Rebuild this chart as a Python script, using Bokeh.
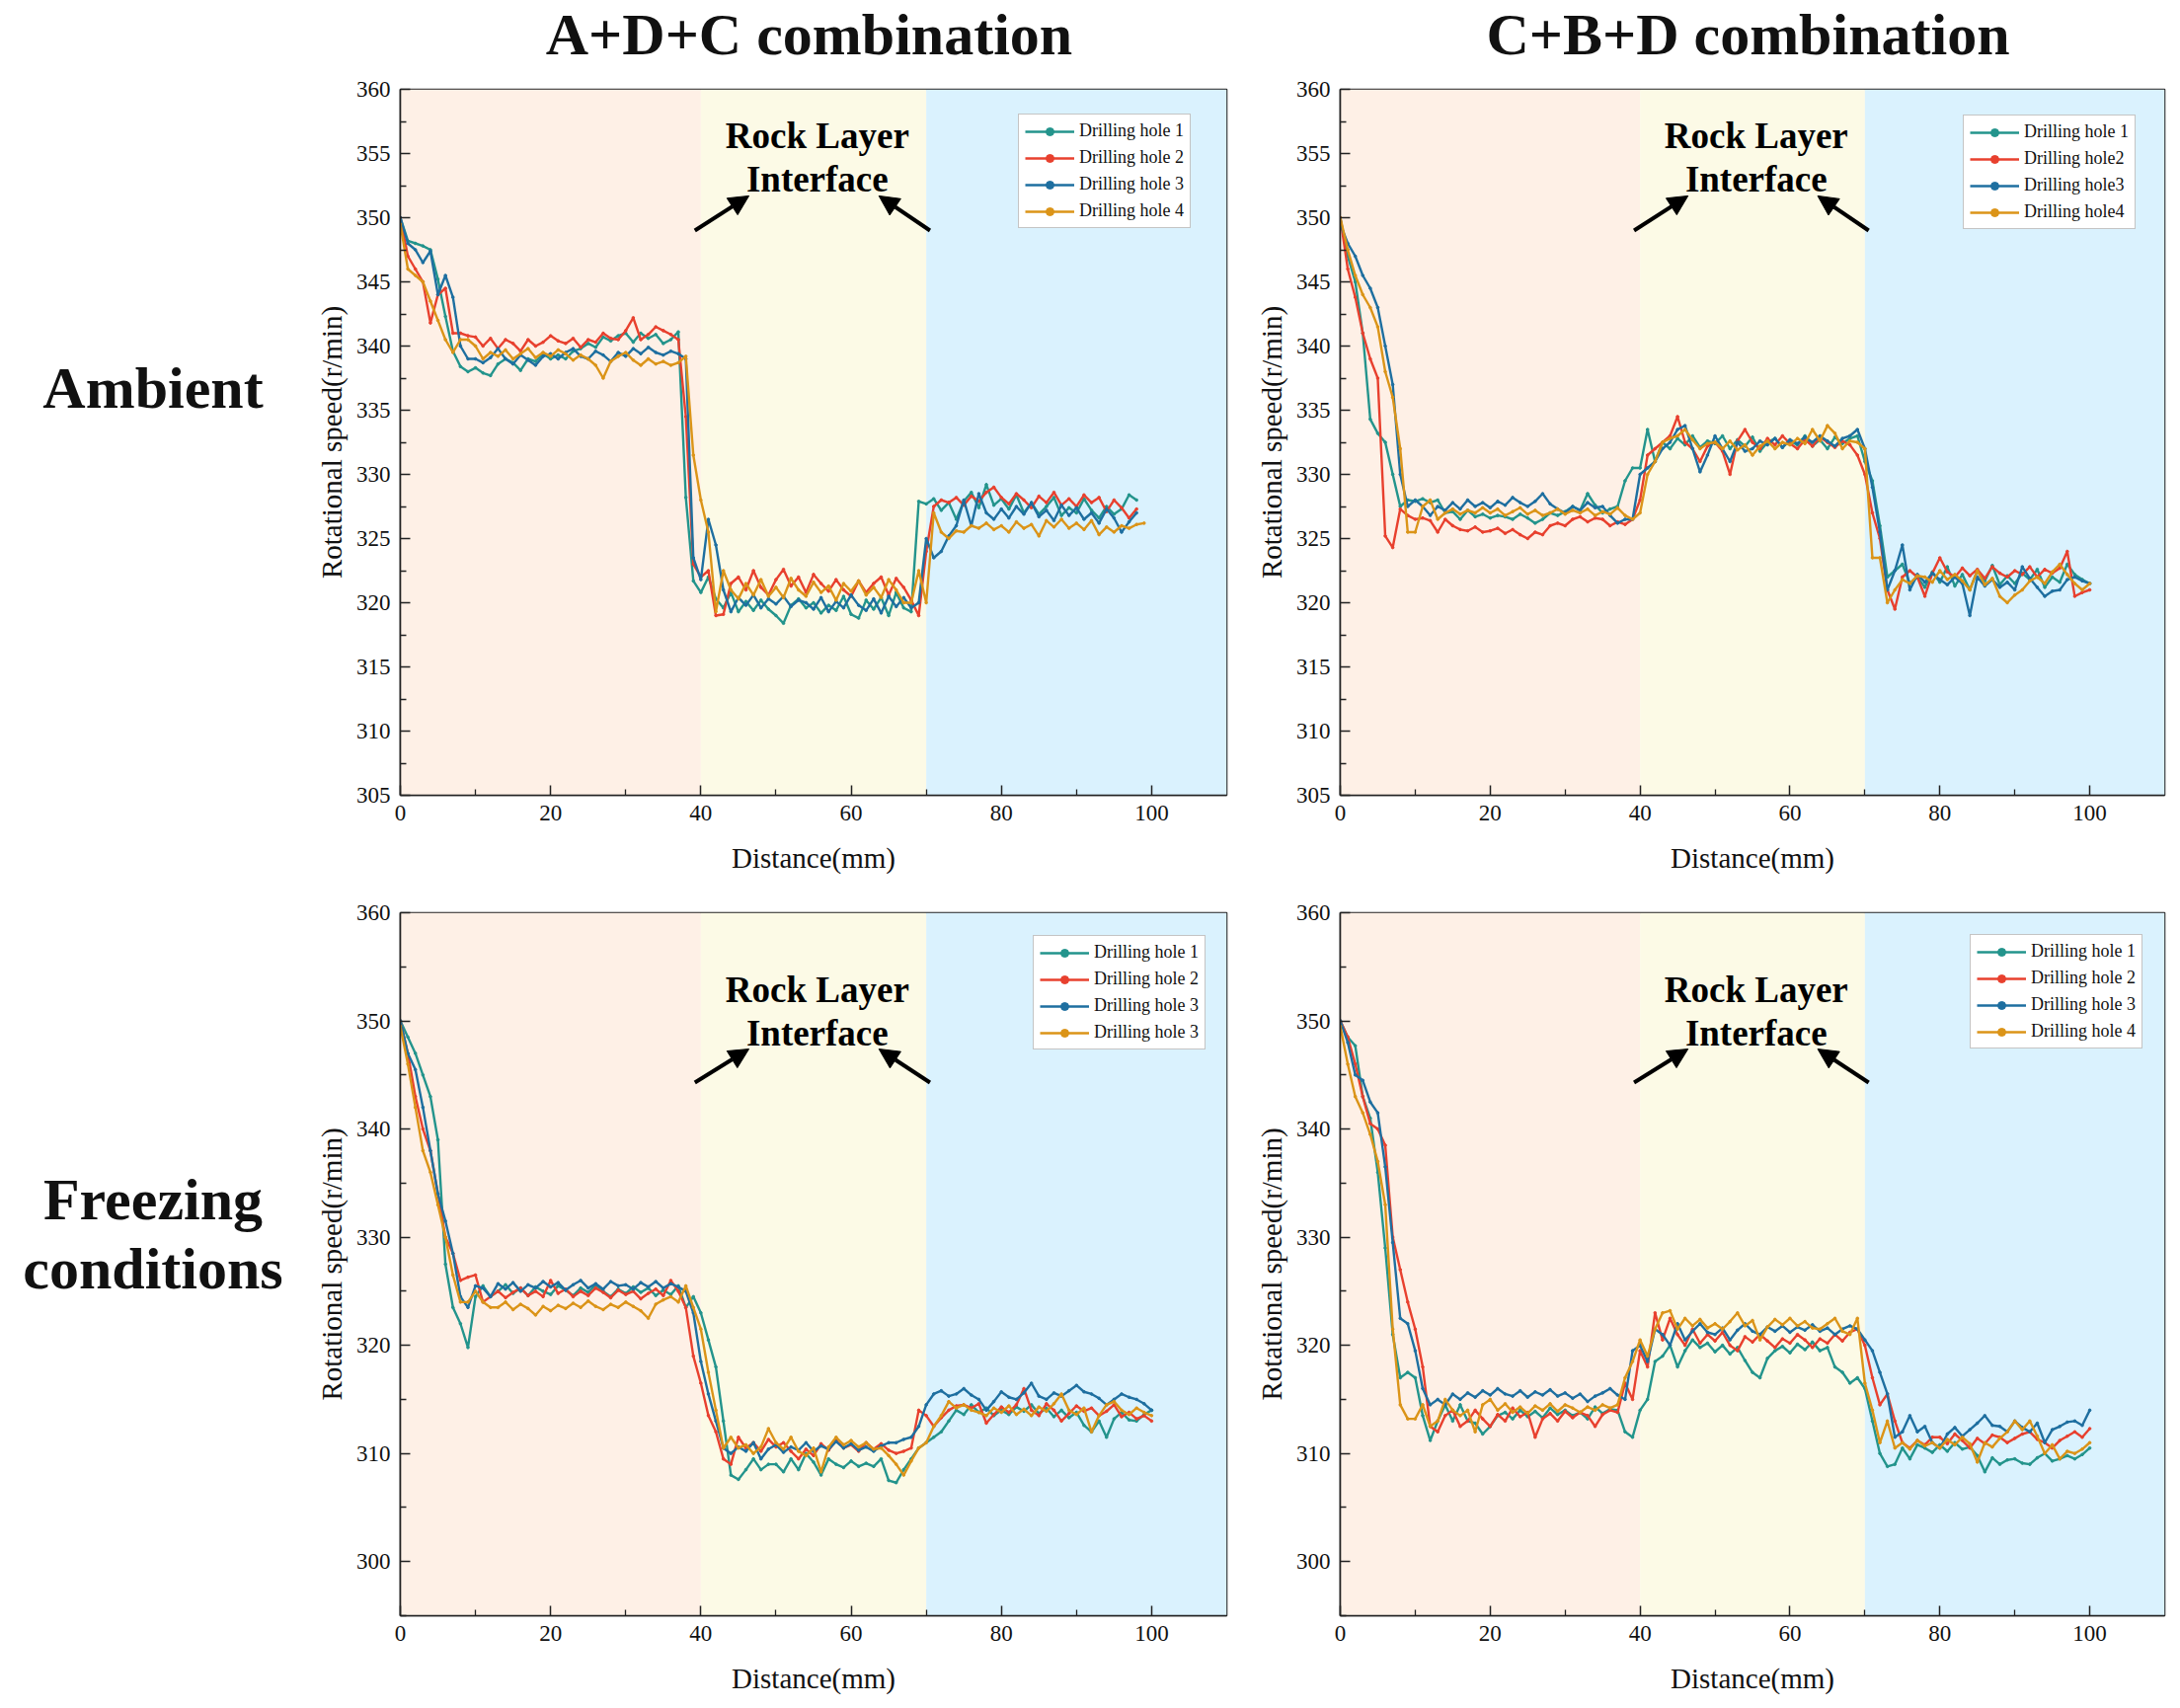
from bokeh.plotting import figure
from bokeh.layouts import column, row
from bokeh.models import (Div, Range1d, BoxAnnotation, Legend, LegendItem,
                          Arrow, NormalHead, Label, FixedTicker)
from bokeh.embed import file_html
from bokeh.resources import INLINE

SERIF = "Liberation Serif"

# ---- data -------------------------------------------------------------
distance = list(range(0, 101))  # mm, sampling grid of the drilling records

col_titles = ["A+D+C combination", "C+B+D combination"]
row_titles = ["Ambient", "Freezing<br>conditions"]
zone_edges = [0, 40, 70, 110]
x_ticks = [0, 20, 40, 60, 80, 100]
x_minor = [10, 30, 50, 70, 90]
y_ticks_amb = [305, 310, 315, 320, 325, 330, 335, 340, 345, 350, 355, 360]
y_minor_amb = [307.5, 312.5, 317.5, 322.5, 327.5, 332.5, 337.5, 342.5, 347.5, 352.5, 357.5]
y_ticks_frz = [300, 310, 320, 330, 340, 350, 360]
y_minor_frz = [295, 305, 315, 325, 335, 345, 355]

labels_adc_amb = ["Drilling hole 1", "Drilling hole 2", "Drilling hole 3", "Drilling hole 4"]
labels_cbd_amb = ["Drilling hole 1", "Drilling hole2", "Drilling hole3", "Drilling hole4"]
labels_adc_frz = ["Drilling hole 1", "Drilling hole 2", "Drilling hole 3", "Drilling hole 3"]
labels_cbd_frz = ["Drilling hole 1", "Drilling hole 2", "Drilling hole 3", "Drilling hole 4"]

# ambient, A+D+C
adc_amb_h1 = [350.0, 348.2, 348.0, 347.8, 347.5, 345.2, 342.3, 339.6, 338.4, 338.0,
              338.3, 337.9, 337.7, 338.6, 339.0, 338.7, 338.1, 339.0, 338.8, 339.4,
              339.0, 339.3, 339.0, 339.6, 339.8, 340.2, 339.9, 340.7, 340.4, 340.8,
              341.0, 340.3, 341.0, 340.6, 340.9, 340.2, 340.5, 341.1, 328.2, 321.7,
              320.8, 322.0, 320.3, 319.6, 320.8, 319.3, 320.1, 319.4, 320.2, 319.5,
              319.0, 318.4, 319.8, 320.3, 319.6, 320.0, 319.2, 319.8, 319.4, 320.5,
              319.1, 318.8, 320.2, 319.5, 320.4, 319.0, 320.8, 319.6, 319.3, 327.9,
              327.7, 328.1, 327.2, 327.8, 326.5, 327.9, 328.6, 327.4, 329.2, 327.6,
              328.1, 327.3, 328.4, 327.0, 327.8, 326.9, 327.5, 328.2, 326.8, 327.4,
              327.0, 328.1, 327.2, 326.6, 327.5, 326.9, 327.3, 328.4, 328.0]
adc_amb_h2 = [350.0, 347.0, 346.0, 345.0, 341.8, 344.0, 344.5, 341.0, 341.0, 340.8,
              340.7, 340.0, 340.6, 339.8, 340.5, 340.2, 339.6, 340.5, 340.0, 340.3,
              340.8, 340.4, 340.2, 340.6, 339.9, 340.5, 340.3, 341.0, 340.6, 340.5,
              341.2, 342.2, 340.5, 340.9, 341.5, 341.2, 340.9, 340.5, 334.5, 323.0,
              322.0, 322.5, 319.0, 319.1, 321.5, 322.0, 321.0, 322.5, 321.2, 320.6,
              321.8, 322.6, 321.3, 322.0, 320.8, 322.2, 321.5, 320.9, 321.8, 321.0,
              320.5, 321.7, 320.8, 321.5, 322.0, 320.6, 321.9, 321.2, 320.2, 319.0,
              324.0, 327.5, 328.0, 327.8, 328.2, 327.6, 328.3, 327.9, 328.6, 329.0,
              328.2, 327.7, 328.5, 328.0, 327.4, 328.3, 327.8, 328.6, 327.6, 328.1,
              327.5, 328.4, 327.8, 328.2, 327.1, 328.0, 327.4, 326.6, 327.3]
adc_amb_h3 = [350.0, 348.0, 347.5, 346.5, 347.4, 344.0, 345.5, 343.8, 340.0, 339.0,
              339.0, 338.7, 339.1, 339.8, 339.0, 338.6, 339.3, 338.9, 338.5, 339.2,
              339.4, 339.0, 339.5, 339.8, 339.2, 339.0, 339.6, 339.3, 338.8, 339.5,
              339.2, 339.8, 339.4, 339.9, 339.5, 339.3, 339.6, 339.4, 339.0, 323.5,
              321.8, 326.5, 324.5, 321.0, 319.3, 320.4, 319.8, 320.6, 319.6, 320.3,
              319.9, 320.5, 319.7, 320.2, 320.0, 319.5, 320.4, 319.3, 320.1, 319.6,
              320.6, 319.8, 319.4, 320.3, 319.2, 320.5, 319.7, 320.4, 319.6, 320.0,
              325.0, 323.5, 324.0, 325.2, 326.0, 328.0, 326.0, 328.5, 327.0, 326.5,
              327.3, 326.6, 327.5, 326.9, 327.8, 326.7, 327.2, 326.4, 327.6, 326.8,
              327.4, 326.5, 327.0, 326.2, 327.3, 326.6, 325.5, 326.3, 327.0]
adc_amb_h4 = [349.5, 346.0, 345.5, 345.0, 343.5, 342.0, 340.5, 339.5, 340.5, 340.5,
              340.0, 339.0, 339.5, 339.2, 339.7, 339.0, 339.4, 339.8, 339.1, 339.5,
              339.2, 339.7, 339.4, 338.9, 339.3, 339.0, 338.5, 337.5, 338.8, 339.2,
              339.5, 338.9, 338.5, 339.0, 338.6, 338.8, 338.5, 338.7, 339.2, 331.5,
              328.0, 325.5, 319.3, 322.5, 321.0, 320.3, 321.5, 320.6, 321.8, 320.5,
              321.2, 320.4, 321.9, 321.0, 320.5, 321.6, 320.8, 321.3, 320.2, 321.5,
              320.9, 321.7, 320.6, 321.2, 320.4, 321.8, 321.0, 320.0, 320.0, 322.5,
              320.0, 327.0, 325.5, 325.0, 325.6, 325.5, 326.0, 325.8, 326.2, 325.7,
              326.0, 325.5, 326.3, 325.8, 326.1, 325.2, 326.4, 325.9, 326.5, 325.8,
              326.2, 325.7, 326.4, 325.3, 325.9, 325.5, 326.0, 325.8, 326.1, 326.2]

# ambient, C+B+D
cbd_amb_h1 = [350.0, 347.0, 345.0, 341.0, 334.3, 333.2, 332.5, 330.0, 327.5, 328.0,
              327.9, 328.1, 327.8, 328.0, 327.0, 327.1, 326.5, 327.2, 326.7, 326.9,
              326.6, 326.8, 326.7, 326.5, 326.9, 326.6, 326.2, 326.5, 327.0, 326.8,
              327.1, 327.5, 327.2, 328.5, 327.6, 327.0, 327.3, 327.5, 329.5, 330.5,
              330.5, 333.5, 331.0, 332.5, 332.0, 332.8, 332.3, 333.0, 332.1, 332.6,
              332.4, 333.0, 332.0, 332.7, 332.2, 332.9, 331.8, 332.5, 332.8, 332.1,
              332.6, 332.3, 333.0, 332.2, 332.7, 332.0, 332.9, 332.4, 332.8, 333.0,
              331.0, 329.5, 326.0, 322.0, 322.5, 323.0, 321.5, 322.0, 321.2, 322.4,
              321.6, 322.8, 321.3, 322.2, 321.0, 322.5, 321.7, 322.9, 321.4, 322.1,
              321.5, 322.3, 321.8, 322.6, 321.2, 322.0, 321.6, 323.0, 322.2, 321.8,
              321.5]
cbd_amb_h2 = [350.0, 346.0, 343.8, 341.0, 339.0, 337.5, 325.2, 324.3, 327.3, 326.8,
              326.5, 326.6, 326.4, 325.5, 326.5, 326.0, 325.7, 325.6, 325.9, 325.5,
              325.6, 325.8, 325.4, 325.7, 325.3, 325.0, 325.5, 325.3, 326.0, 326.2,
              326.0, 326.5, 326.7, 326.3, 326.6, 326.5, 326.0, 326.3, 326.1, 326.5,
              328.0, 331.5, 332.0, 332.5, 333.0, 334.5, 332.5, 332.0, 331.0, 332.2,
              332.5, 331.8, 330.0, 332.6, 333.5, 332.5, 332.0, 332.8, 332.3, 333.0,
              332.4, 332.0, 332.7, 332.2, 332.9, 332.5, 332.1, 332.6, 332.3, 331.5,
              330.0, 327.0, 325.0, 321.0, 319.5, 322.0, 322.5, 322.0, 320.5, 322.3,
              323.5, 322.4, 322.0, 322.7, 322.1, 322.6, 321.9, 322.8, 322.3, 322.0,
              322.5, 322.2, 322.8, 322.0, 322.6, 322.3, 322.7, 324.0, 320.5, 320.8,
              321.0]
cbd_amb_h3 = [349.5, 348.0, 347.0, 345.5, 344.5, 343.0, 340.0, 337.0, 330.0, 327.5,
              328.0, 327.5, 326.8, 327.5, 327.2, 327.8, 327.3, 328.0, 327.5, 327.8,
              327.4, 327.9, 327.6, 328.2, 327.8, 327.5, 327.9, 328.5, 327.7, 327.3,
              327.0, 327.5, 327.2, 327.8, 327.4, 327.5, 326.8, 326.2, 326.5, 326.5,
              330.0, 330.5, 331.0, 332.0, 332.5, 333.5, 333.8, 332.0, 330.2, 331.5,
              333.0, 332.0, 331.0, 332.5, 331.8, 332.0, 332.6, 332.3, 332.8, 332.1,
              332.7, 332.4, 332.9, 332.5, 333.0, 332.6, 332.2, 332.8, 333.0, 333.5,
              332.0, 329.0, 325.5, 321.0, 322.5, 324.5, 321.0, 322.2, 321.6, 322.3,
              321.8, 321.4, 322.0, 321.5, 319.0, 322.0, 321.3, 321.8, 321.2, 321.6,
              321.0, 322.8, 321.9, 321.2, 320.5, 320.9, 321.0, 321.8, 322.0, 321.7,
              321.5]
cbd_amb_h4 = [350.0, 347.5, 345.5, 344.0, 343.0, 341.5, 338.0, 336.0, 332.0, 325.5,
              325.5, 327.5, 328.0, 326.5, 327.0, 327.3, 326.9, 327.2, 327.0, 327.4,
              327.0, 327.3, 326.8, 327.1, 327.4, 326.9, 327.2, 326.8, 327.0, 327.3,
              326.9, 327.2, 327.0, 327.3, 326.8, 327.1, 326.9, 327.4, 326.8, 326.5,
              327.0, 330.0, 331.0, 332.5, 332.8, 333.0, 333.5, 332.7, 332.0, 332.4,
              332.5, 332.0, 332.6, 331.9, 332.3, 331.5, 332.2, 332.6, 332.0, 332.5,
              332.3, 332.8, 332.4, 333.5, 332.6, 333.8, 333.2, 332.0, 332.6, 332.5,
              332.0, 323.5, 323.5, 320.0, 321.0, 321.8, 321.5, 322.1, 322.0, 321.6,
              322.5, 321.8, 322.2, 321.7, 321.0, 322.5, 321.4, 321.9, 320.5, 320.0,
              320.6, 321.0, 321.7, 322.0, 321.5, 322.4, 323.0, 322.2, 321.5, 321.0,
              321.5]

# freezing, A+D+C
adc_frz_h1 = [350.0, 348.5, 347.0, 345.0, 343.0, 339.0, 327.5, 323.5, 322.0, 319.8,
              324.5, 325.5, 324.5, 325.0, 325.6, 324.8, 325.3, 324.6, 325.4, 325.0,
              324.7, 325.5, 325.1, 324.6, 325.3, 324.9, 325.6, 325.0, 324.5, 325.2,
              324.8, 325.4, 324.9, 325.3, 324.6, 325.1, 324.7, 325.5, 323.5, 324.5,
              323.0, 320.5, 318.0, 313.0, 308.0, 307.6, 308.5, 309.5, 308.5, 309.0,
              309.0, 308.3, 309.5, 308.5, 310.0, 309.2, 308.0, 309.5, 309.0, 308.7,
              309.3, 308.8, 309.1, 308.8, 309.5, 307.5, 307.3, 308.5, 309.5, 310.5,
              311.0, 311.5, 312.0, 313.0, 314.0, 313.6, 314.5, 313.8, 314.2, 313.5,
              314.0, 313.6, 314.3, 313.9, 314.5, 313.7, 314.2, 313.4, 314.0, 313.3,
              313.8, 312.6, 312.0, 313.0, 311.5, 313.2, 313.8, 313.1, 313.0, 313.6,
              314.0]
adc_frz_h2 = [350.0, 347.0, 343.0, 340.0, 338.0, 334.0, 330.0, 328.5, 326.0, 326.3,
              326.5, 324.0, 324.5, 325.0, 324.4, 324.9, 325.3, 324.6, 325.0, 324.5,
              326.0, 324.8, 325.2, 324.5, 325.0, 324.6, 325.3, 324.9, 324.4, 325.1,
              324.7, 325.0, 324.3, 324.8, 325.2, 324.6, 326.0, 325.0, 323.5, 319.0,
              316.5, 313.5, 312.0, 309.5, 309.0, 311.5, 310.5, 311.0, 310.2, 311.3,
              310.6, 311.0, 310.2, 309.5, 310.4, 309.8, 310.9, 310.3, 311.2, 310.5,
              310.8, 310.2, 311.0, 310.4, 310.9, 310.3, 310.0, 310.2, 310.5, 314.0,
              313.5, 312.5, 313.3, 314.0, 314.4, 314.5, 314.2, 314.6, 312.8, 313.6,
              314.3, 313.8, 314.5, 316.0, 314.0, 313.5, 314.6, 314.0, 313.0, 313.7,
              314.4, 313.9, 314.2, 313.5, 313.9, 314.5, 313.4, 313.8, 313.2, 313.5,
              313.0]
adc_frz_h3 = [350.0, 347.0, 345.5, 342.0, 338.0, 334.0, 331.5, 328.5, 324.5, 323.5,
              325.5, 325.3, 324.5, 325.7, 325.2, 325.8, 325.0, 325.6, 325.3, 325.9,
              325.4, 325.8, 325.1, 325.6, 326.0, 325.3, 325.7, 325.2, 325.9, 325.5,
              325.6, 325.2, 325.8, 325.4, 325.9, 325.3, 325.7, 325.4, 325.0, 323.0,
              318.5, 315.5, 313.0, 310.5, 310.0, 310.6, 310.2, 311.0, 309.5, 310.4,
              310.8, 310.1, 310.6, 310.3, 311.0, 310.2, 310.7, 310.4, 311.1, 310.5,
              310.9, 310.3, 310.6, 310.2, 310.7, 311.0, 311.0, 311.3, 311.5, 312.5,
              314.5, 315.5, 315.8, 315.3, 315.5, 316.0, 315.4, 315.0, 314.0, 314.8,
              315.7, 315.2, 315.0, 315.6, 316.5, 315.3, 315.0, 315.6, 315.3, 315.8,
              316.3, 315.7, 315.5, 315.1, 314.5, 315.0, 315.5, 315.2, 315.0, 314.6,
              314.0]
adc_frz_h4 = [349.5, 346.0, 342.0, 338.0, 336.0, 333.0, 330.0, 326.5, 324.0, 324.0,
              325.0, 324.0, 323.5, 323.5, 324.0, 323.3, 323.8, 323.4, 322.8, 323.6,
              323.2, 323.7, 323.4, 323.9, 323.5, 324.1, 323.6, 323.3, 323.8, 323.5,
              324.0, 323.6, 323.2, 322.5, 323.8, 324.2, 324.5, 324.0, 325.5, 323.5,
              321.5, 317.5, 314.0, 310.5, 311.5, 310.5, 310.8, 310.0, 310.6, 312.3,
              311.0, 310.4, 311.5, 310.2, 309.8, 310.5, 308.3, 310.6, 311.5, 310.8,
              311.2, 310.6, 311.0, 310.4, 310.5, 309.8, 309.0, 308.0, 309.3, 310.5,
              311.0, 312.5, 313.5, 314.8, 314.2, 314.5, 314.0, 313.8, 313.5, 314.2,
              313.8, 314.4, 313.6, 314.1, 313.5, 314.3, 313.9, 314.6, 315.5, 314.0,
              313.6, 314.2, 312.0, 313.5, 314.5, 314.8, 314.0, 313.6, 314.2, 313.8,
              313.5]

# freezing, C+B+D
cbd_frz_h1 = [350.0, 348.5, 347.7, 343.0, 341.0, 336.0, 329.0, 321.0, 317.0, 317.5,
              317.0, 313.5, 311.2, 313.0, 314.5, 313.0, 314.5, 313.0, 312.8, 311.8,
              312.5, 313.5, 313.8, 313.2, 314.0, 313.4, 313.9, 313.3, 314.2, 313.6,
              314.0, 313.5, 313.8, 313.2, 314.3, 313.7, 314.1, 314.0, 312.0, 311.5,
              314.0, 315.0, 318.5, 319.0, 320.0, 318.0, 319.5, 320.5, 319.8, 320.2,
              319.4, 320.0, 319.2, 319.8, 318.6, 317.5, 317.0, 318.8, 319.5, 319.9,
              319.3, 320.1, 319.6, 320.3, 319.5, 319.8, 318.0, 317.5, 316.5, 317.0,
              316.0, 313.0, 310.0, 308.8, 309.0, 310.5, 309.5, 310.8, 310.5, 310.1,
              310.8, 310.2, 311.0, 310.4, 310.6, 309.8, 308.3, 309.6, 309.0, 309.4,
              309.5, 309.1, 309.0, 309.6, 310.0, 309.3, 309.5, 309.8, 309.5, 309.9,
              310.5]
cbd_frz_h2 = [350.0, 348.5, 346.0, 343.0, 340.5, 340.0, 338.5, 330.0, 327.0, 324.0,
              321.5, 318.0, 312.5, 312.0, 313.5, 314.0, 312.5, 313.0, 314.0, 313.2,
              312.5, 313.6, 313.0, 314.2, 313.4, 313.8, 311.5, 313.2, 313.7, 313.0,
              313.9, 313.3, 313.8, 313.5, 312.5, 313.6, 314.0, 313.8, 316.5, 315.0,
              319.5, 318.0, 323.0, 320.5, 322.5, 321.0, 320.0, 321.5, 320.2, 321.0,
              320.4, 321.2, 320.0, 319.5, 320.8, 320.3, 321.0, 320.4, 319.8, 320.6,
              320.2, 321.0, 320.5, 319.8, 320.6, 320.2, 321.0, 320.4, 321.2, 321.5,
              320.0, 317.0, 314.5, 315.5, 313.0, 311.0, 310.5, 311.2, 310.8, 311.5,
              311.5, 310.9, 311.8, 311.2, 310.5, 311.4, 310.9, 311.7, 311.5, 311.0,
              311.4, 311.8, 312.0, 311.3, 311.0, 310.5, 311.2, 311.6, 312.0, 311.5,
              312.3]
cbd_frz_h3 = [350.0, 348.0, 345.0, 344.5, 342.5, 341.5, 336.5, 329.5, 322.5, 322.0,
              319.5, 316.0, 314.5, 315.0, 314.5, 315.5, 315.0, 315.6, 315.2, 315.8,
              315.4, 316.0, 315.5, 315.3, 315.8, 315.2, 315.7, 315.4, 315.9, 315.3,
              315.6, 315.1, 315.5, 314.8, 315.3, 315.6, 316.0, 315.4, 315.0, 319.5,
              320.0, 318.5, 321.5, 321.0, 320.0, 322.0, 320.5, 321.3, 322.0, 321.2,
              321.0, 321.6, 320.5, 321.4, 322.0, 321.3, 321.0, 321.7, 321.3, 321.8,
              321.2, 321.7, 321.4, 321.9, 321.3, 321.6, 321.0, 321.5, 321.8, 321.5,
              320.5, 319.5, 317.5, 315.5, 311.5, 312.0, 313.5, 312.0, 312.5, 311.0,
              310.5, 311.8, 312.4, 311.6, 312.2, 312.8, 313.5, 312.6, 312.5, 312.0,
              313.0, 312.4, 312.0, 312.8, 311.0, 312.2, 312.5, 312.9, 313.0, 312.6,
              314.0]
cbd_frz_h4 = [349.5, 346.0, 343.0, 341.5, 339.5, 337.0, 333.0, 321.5, 314.5, 313.2,
              313.2, 314.5, 312.5, 313.0, 315.0, 314.0, 313.5, 314.0, 312.0, 314.5,
              315.0, 314.0, 314.6, 313.8, 314.3, 313.7, 314.4, 314.0, 314.6, 313.9,
              314.5, 314.2, 313.8, 314.3, 314.0, 314.5, 314.2, 314.5, 317.0, 318.5,
              320.5, 319.0, 321.5, 323.0, 323.2, 321.5, 322.5, 321.8, 322.4, 321.6,
              322.0, 321.5, 322.2, 323.0, 321.8, 322.3, 320.5, 321.7, 322.4, 321.9,
              322.5, 321.8, 322.2, 321.6, 321.5, 322.0, 322.5, 321.3, 321.0, 322.5,
              316.5, 314.0, 311.0, 313.0, 310.5, 311.0, 310.4, 311.2, 310.7, 311.0,
              310.5, 311.3, 310.8, 311.5, 310.9, 309.2, 311.0, 310.6, 311.4, 312.0,
              313.0, 312.2, 313.0, 311.6, 310.0, 310.8, 309.5, 310.2, 310.0, 310.4,
              311.0]

# ---- styling ----------------------------------------------------------
hole_colors = ["#23948C", "#E8402E", "#1E6FA0", "#DB9418"]
zone_colors = ["#FEF0E6", "#FCFAE6", "#DAF2FE"]


def make_panel(series, labels, y_lo, y_ticks, y_minor, text_ys, arrow_ys,
               legend_at, frame_w, frame_h, borders):
    left, right, top, bottom = borders
    p = figure(frame_width=frame_w, frame_height=frame_h,
               x_range=Range1d(0, 110), y_range=Range1d(y_lo, 360),
               output_backend="svg", toolbar_location=None,
               min_border_left=left, min_border_right=right,
               min_border_top=top, min_border_bottom=bottom,
               background_fill_color="white", border_fill_color="white")
    p.xgrid.visible = False
    p.ygrid.visible = False
    p.outline_line_color = "#222222"
    p.outline_line_width = 1.6

    for lo, hi, c in zip(zone_edges[:-1], zone_edges[1:], zone_colors):
        p.add_layout(BoxAnnotation(left=lo, right=hi, fill_color=c, fill_alpha=1.0,
                                   line_alpha=0, level="underlay"))

    items = []
    for ys, lab, c in zip(series, labels, hole_colors):
        xs = distance[:len(ys)]
        ln = p.line(xs, ys, line_color=c, line_width=2.4)
        sc = p.scatter(xs, ys, size=2.6, color=c)
        items.append(LegendItem(label=lab, renderers=[ln, sc]))

    leg = Legend(items=items, location=legend_at, orientation="vertical",
                 label_text_font=SERIF, label_text_font_size="18px",
                 label_text_color="#111111", glyph_width=50, glyph_height=20,
                 label_height=20, spacing=6, padding=6, margin=0,
                 label_standoff=5, border_line_color="#8a8a8a",
                 border_line_width=1.2, background_fill_color="white",
                 background_fill_alpha=1.0)
    p.add_layout(leg)

    for txt, ty in zip(["Rock Layer", "Interface"], text_ys):
        p.add_layout(Label(x=55.5, y=ty, text=txt, text_align="center",
                           text_baseline="middle", text_font=SERIF,
                           text_font_size="37px", text_font_style="bold",
                           text_color="black"))
    tail_y, tip_y = arrow_ys
    for x0, x1 in [(39.2, 46.4), (70.5, 63.7)]:
        p.add_layout(Arrow(x_start=x0, y_start=tail_y, x_end=x1, y_end=tip_y,
                           line_width=4, line_color="black",
                           end=NormalHead(size=20, fill_color="black",
                                          line_color="black")))

    p.xaxis.ticker = FixedTicker(ticks=x_ticks, minor_ticks=x_minor)
    p.yaxis.ticker = FixedTicker(ticks=y_ticks, minor_ticks=y_minor)
    p.xaxis.axis_label = "Distance(mm)"
    p.yaxis.axis_label = "Rotational speed(r/min)"
    for ax in p.axis:
        ax.axis_line_color = "#222222"
        ax.axis_line_width = 1.6
        ax.major_tick_line_color = "#222222"
        ax.minor_tick_line_color = "#222222"
        ax.major_tick_line_width = 1.5
        ax.minor_tick_line_width = 1.3
        ax.major_tick_in = 10
        ax.major_tick_out = 0
        ax.minor_tick_in = 6
        ax.minor_tick_out = 0
        ax.major_label_text_font = SERIF
        ax.major_label_text_font_size = "23px"
        ax.major_label_text_color = "#111111"
        ax.major_label_standoff = 10
        ax.axis_label_text_font = SERIF
        ax.axis_label_text_font_size = "29px"
        ax.axis_label_text_font_style = "normal"
        ax.axis_label_text_color = "#111111"
    p.xaxis.axis_label_standoff = 19
    p.yaxis.axis_label_standoff = 6
    return p


head_style = "font-family:'Liberation Serif';font-weight:bold;font-size:60px;line-height:62px;color:#111;"

title_row = row(
    Div(width=401, height=70, text="", margin=0),
    Div(width=837, height=70, margin=0,
        text=f"<div style=\"{head_style}width:837px;text-align:center;margin-top:4px;\">{col_titles[0]}</div>"),
    Div(width=115, height=70, text="", margin=0),
    Div(width=843, height=70, margin=0,
        text=f"<div style=\"{head_style}width:835px;text-align:center;margin-top:4px;\">{col_titles[1]}</div>"),
)

p_adc_amb = make_panel([adc_amb_h1, adc_amb_h2, adc_amb_h3, adc_amb_h4], labels_adc_amb,
                       305, y_ticks_amb, y_minor_amb, (356.4, 353.0), (349.0, 351.7),
                       (626, 574), 837, 715, (85, 20, 20, 97))
p_cbd_amb = make_panel([cbd_amb_h1, cbd_amb_h2, cbd_amb_h3, cbd_amb_h4], labels_cbd_amb,
                       305, y_ticks_amb, y_minor_amb, (356.4, 353.0), (349.0, 351.7),
                       (631, 573), 835, 715, (95, 8, 20, 97))
p_adc_frz = make_panel([adc_frz_h1, adc_frz_h2, adc_frz_h3, adc_frz_h4], labels_adc_frz,
                       295, y_ticks_frz, y_minor_frz, (352.9, 348.9), (344.3, 347.4),
                       (641, 573), 837, 712, (85, 20, 22, 85))
p_cbd_frz = make_panel([cbd_frz_h1, cbd_frz_h2, cbd_frz_h3, cbd_frz_h4], labels_cbd_frz,
                       295, y_ticks_frz, y_minor_frz, (352.9, 348.9), (344.3, 347.4),
                       (638, 574), 835, 712, (95, 8, 22, 85))

amb_label = Div(width=316, height=832, margin=0,
                text=f"<div style=\"{head_style}width:310px;text-align:center;margin-top:290px;line-height:66px;\">{row_titles[0]}</div>")
frz_label = Div(width=316, height=819, margin=0,
                text=f"<div style=\"{head_style}width:310px;text-align:center;margin-top:278px;line-height:70px;\">{row_titles[1]}</div>")

layout = column(title_row,
                row(amb_label, p_adc_amb, p_cbd_amb),
                row(frz_label, p_adc_frz, p_cbd_frz))

open("out.html", "w").write(file_html(layout, INLINE))
